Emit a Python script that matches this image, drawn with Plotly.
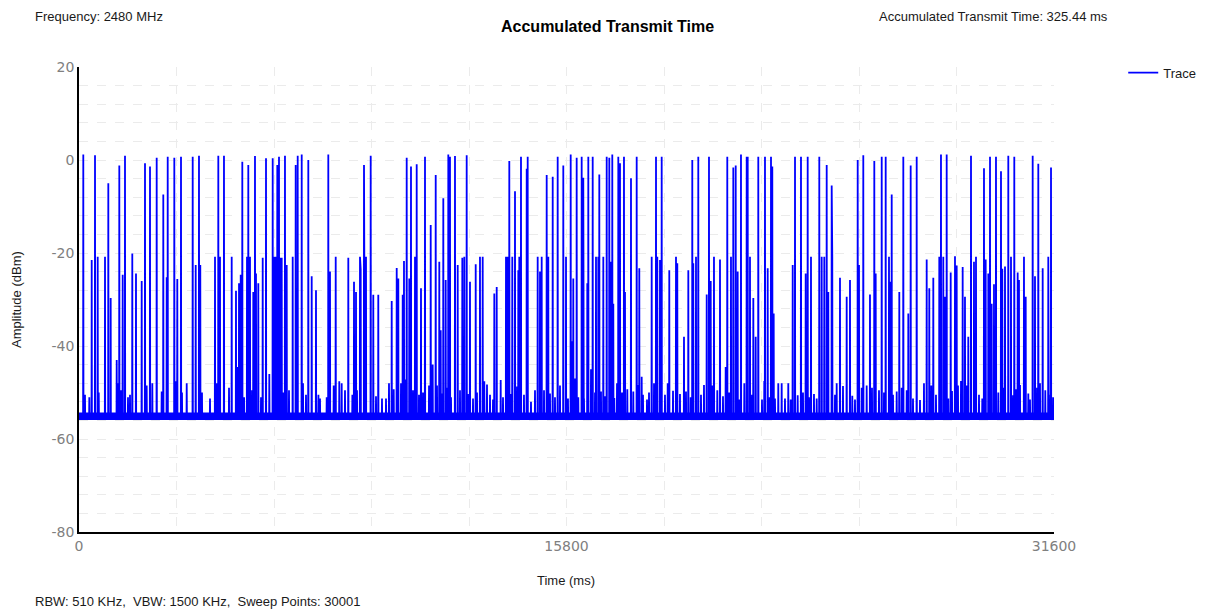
import plotly.graph_objects as go

# ---------------- data ----------------
# main bursts: time (ms) and peak amplitude (dBm)
burst_t = [139, 412, 519, 606, 843, 950, 1027, 1222, 1306, 1416, 1491, 1727, 1847, 2032, 2139, 2301,
           2518, 2732, 2842, 2875, 3089, 3186, 3306, 3491, 3685, 3782, 3889, 3931, 4408, 4515, 4570,
           4699, 4949, 5088, 5186, 5241, 5293, 5445, 5487, 5542, 5649, 5704, 5737, 5811, 5954, 6061,
           6168, 6278, 6330, 6385, 6427, 6482, 6514, 6570, 6676, 6732, 6926, 7023, 7088, 7218, 7432,
           7542, 7681, 8080, 8135, 8320, 8514, 8728, 8913, 8978, 9107, 9130, 9237, 9302, 9454, 9538,
           9700, 10135, 10297, 10349, 10491, 10533, 10621, 10705, 10760, 10890, 10945, 11084, 11214,
           11399, 11463, 11561, 11677, 11723, 11807, 11885, 11969, 12024, 12186, 12274, 12423, 12488,
           12565, 12672, 12857, 12996, 13084, 13460, 13538, 13667, 13839, 13894, 13946, 14043, 14131,
           14238, 14270, 14325, 14510, 14542, 14866, 14941, 14996, 15158, 15210, 15353, 15514, 15696,
           15784, 15936, 15968, 16020, 16130, 16292, 16344, 16474, 16507, 16649, 16756, 16831, 16863,
           16993, 17103, 17187, 17242, 17284, 17317, 17479, 17534, 17663, 17696, 17890, 18075, 18159,
           18237, 18561, 18701, 18743, 18830, 18885, 19131, 19349, 19391, 19608, 19748, 19877, 19909,
           19997, 20071, 20344, 20418, 20474, 20580, 20775, 21011, 21131, 21206, 21284, 21348, 21455,
           21640, 21673, 21747, 21855, 21932, 22016, 22233, 22321, 22428, 22470, 22515, 22664, 22774,
           22988, 23131, 23206, 23400, 23552, 23617, 23724, 23993, 24071, 24155, 24233, 24285, 24395,
           24414, 24557, 24664, 24881, 24988, 25238, 25280, 25419, 25636, 25776, 25821, 26016, 26145,
           26252, 26285, 26340, 26586, 26716, 26878, 26955, 27150, 27474, 27558, 27688, 27882, 27937,
           28012, 28067, 28122, 28252, 28391, 28446, 28640, 28715, 28822, 28910, 29007, 29072, 29331,
           29386, 29471, 29526, 29580, 29655, 29720, 29882, 29924, 30012, 30119, 30206, 30313, 30423,
           30465, 30627, 30683, 30909, 30984, 31091, 31233, 31415, 31503]
burst_dbm = [1.2, -21.5, 1.0, -20.8, -20.8, -5.0, -29.7, -43, -1.2, -24.7, 0.9, -20.1, -24.4, -26, -0.7, -1.4,
             0.5, -7.4, -25.2, 0.7, 0.5, -25.6, 0.7, -48, 0.7, -22.6, 0.9, -22.6, -20.8, 0.9, -20.8,
             0.9, -20.8, -28.1, -26.5, -24.7, -0.4, -20.8, -1.1, -20.8, -28.4, 0.85, -24.4, -26.5, -21, 0.4,
             -46, 0.4, -20.8, -20.8, -1.1, 0.7, -21, -21, 0.9, -22.6, -20.8, -1.1, 0.9, 1.2, 0,
             -25, -28, 1.2, -24, -20.8, -48, -21, -26.2, -28.4, -20.8, -23.5, -1.1, -20.8, 0.9, -29,
             -29, -30.3, -23.2, -25.5, -29, -21.7, 0.5, -25.5, -1.4, -20.8, -0.9, -27.6, 0.7,
             -14, -44, -3.2, -21.9, -36.6, -8.2, -25.8, 1.2, 0.7, 0.85, -22.6, -21, -20.8,
             1.0, -26.2, -22.4, -20.8, -20.8, -28.7, -27.3, -47.3, -20.8, -20.8, -0.2, -20.8, -6.7,
             -23.7, -20.8, 0.7, -1.9, 0.7, -20.8, -24, -20.8, -3.2, -20.8, -3.6, 0.7, -1.2,
             -20.8, 1.2, -39, -25.5, 0.5, 0.7, -3.8, -26.5, 0.7, 0.7, -20.8, -20.8, -3.1,
             -20.8, 0.7, 0.5, -21.9, 1.2, -30.9, 0.7, -0.7, 0.7, -28.4, -3.9, 0.7, -23.3,
             -46.6, -20.8, 0.7, -20.8, -21.5, 0.7, -23.7, -20.8, -22.2, -38, -23.7, 0, -22.2,
             -20.8, 0.7, -28.9, 0.7, -26, -20.8, -21.4, 0.7, -20.8, -1.6, -1.2, -24, 1.2,
             0.7, 0.7, -20.8, -29.7, -38, 0.7, 0.7, -23.3, 0.7, -1.4, -33, -48, -48,
             -48, -22.6, 0.7, 0.7, -24.4, 0.7, -20.8, 0.7, -20.8, -20.8, -1.1, -28.4, -5.5,
             -20.8, -48, -25.3, -29.4, -25.8, 0, -22.6, 1.0, -28.9, -0.2, -24.4, 0.7, 0.7,
             -20.8, -26.2, -7.4, -28.4, 0.7, -33, -1.2, 0.7, -21.4, -27.6, -25.3, -20.8, 1.2,
             -20.8, -29.4, 1.2, -24.2, -20.7, -22.7, -23, -29.4, -38, 0.9, -21.9, -20.8, -1.8,
             -21.4, -24.4, 0.7, -30.9, -26.7, 0.7, -2.4, -23.4, -22.9, 0.9, -20.8, 0.7, -24.2,
             -25.8, -20.8, -29.4, 0.9, -25, -0.8, -23.3, -20.8, -1.6]

# small noise bumps above the floor: time (ms) and level (dBm)
bump_t = [194, 334, 640, 1260, 1361, 1588, 1653, 2194, 2376, 2680, 3140, 3338, 3986, 4246, 4463, 4862,
          5143, 5350, 5607, 5899, 6612, 6806, 7260, 7357, 7760, 7811, 8028, 8255, 8436, 8621, 8860,
          9010, 9260, 9626, 9820, 9950, 10047, 10200, 10436, 10588, 10825, 11019, 11149, 11344, 11603,
          11765, 11927, 12057, 12348, 12607, 12770, 12899, 13136, 13223, 13321, 13418, 13742, 14000,
          14196, 14422, 14649, 14779, 15071, 15265, 15427, 15589, 15848, 16070, 16182, 16367, 16594,
          16724, 16918, 17047, 17349, 17437, 17599, 17771, 17965, 18117, 18279, 18409, 18474, 18636,
          18992, 19080, 19252, 19478, 19673, 19825, 20159, 20256, 20525, 20687, 20872, 20959, 21067,
          21391, 21563, 21812, 22136, 22210, 22386, 22557, 22881, 23066, 23293, 23465, 23659, 23821,
          23909, 24502, 24761, 25063, 25150, 25367, 25529, 25701, 25928, 26090, 26382, 26502, 26664,
          26826, 27030, 27257, 27386, 27623, 27775, 28174, 28294, 28488, 28586, 28770, 29169, 29276,
          29795, 29979, 30271, 30368, 30498, 30767, 30822, 31049, 31146, 31318, 31437, 31570]
bump_dbm = [-50.5, -51, -50, -48, -49.5, -51, -50.5, -48.5, -48, -49.8, -47.6, -50, -50, -51.3, -48, -49,
            -44.5, -51, -49.5, -51, -50, -49.5, -48, -50.5, -50.5, -51.3, -51, -48.5, -47.6, -49.5, -50.5,
            -49.5, -48.5, -50.8, -51.3, -51.3, -48, -49.3, -48, -47.2, -49.5, -50.5, -50, -48.5, -48.5,
            -50.2, -49, -51, -49.5, -50.3, -51.3, -50, -47.6, -48.3, -50.5, -51.5, -51, -50.3,
            -48.7, -50.5, -52, -49.5, -49.5, -50.2, -51, -48.5, -51.3, -47, -51, -51.3, -45,
            -50, -49.8, -50.8, -51.2, -48, -50, -49.3, -49.8, -48.4, -50.5, -51.5, -50, -48,
            -50.5, -48, -49.6, -50.3, -49.8, -51, -50.5, -48.4, -48.5, -49.5, -50.8, -44.5, -50,
            -51.5, -48, -50.5, -51.5, -47.5, -51, -51.3, -51.3, -51.5, -50.6, -50, -51, -50.3,
            -51.3, -50.5, -48.6, -50.7, -51.5, -49, -48.5, -49, -49.5, -50, -50.5, -49.8, -49,
            -49.5, -51.3, -51.6, -48, -48.5, -50.5, -51.3, -49.7, -48.5, -47.5, -48.5, -50.5, -51.3,
            -50, -49, -50.6, -49.3, -48.4, -50.2, -51.5, -49, -48, -49.5, -50.5, -51]

floor_dbm = -55.0            # noise floor level
floor_band = [-55.9, -54.3]  # dense noise band seen along the floor
sweep_span = [0, 31600]      # ms
x_ticks = [0, 15800, 31600]
y_ticks = [-80, -60, -40, -20, 0, 20]

# ---------------- build trace ----------------
events = sorted(list(zip(burst_t, burst_dbm)) + list(zip(bump_t, bump_dbm)))
half_w = 6  # ms on each side of a burst sample
xs = [sweep_span[0]]
ys = [floor_dbm]
for t, a in events:
    xs += [t - half_w, t, t + half_w]
    ys += [floor_dbm, a, floor_dbm]
xs.append(sweep_span[1])
ys.append(floor_dbm)

BLUE = "#0000ff"
fig = go.Figure()
# dense floor band (same colour as trace)
fig.add_trace(go.Scatter(
    x=[sweep_span[0], sweep_span[1], sweep_span[1], sweep_span[0], sweep_span[0]],
    y=[floor_band[0], floor_band[0], floor_band[1], floor_band[1], floor_band[0]],
    fill="toself", fillcolor=BLUE, mode="lines", line=dict(width=0, color=BLUE),
    showlegend=False, hoverinfo="skip"))
fig.add_trace(go.Scatter(x=xs, y=ys, mode="lines", name="Trace",
                         line=dict(color=BLUE, width=1.8)))

GRID = "#ebebeb"
TICKC = "#808080"
FONT = "Liberation Sans, Arial, sans-serif"

# the page body has an 8px margin; plot area spans page px x 79..1054, y 67..532
fig.update_layout(
    width=1202, height=605,
    margin=dict(l=71, r=156, t=59, b=81, autoexpand=False),
    paper_bgcolor="white", plot_bgcolor="white",
    font=dict(family=FONT, size=13, color="#1a1a1a"),
    showlegend=True,
    legend=dict(x=1.071, y=1.02, xanchor="left", yanchor="top",
                font=dict(size=13, color="#1a1a1a"), bgcolor="rgba(0,0,0,0)",
                itemwidth=30),
    xaxis=dict(range=sweep_span, tickvals=x_ticks, ticktext=[str(v) for v in x_ticks],
               showline=True, linecolor="black", linewidth=1.5, zeroline=False,
               showgrid=True, gridcolor=GRID, griddash="dash", gridwidth=1,
               minor=dict(dtick=3160, tick0=0, showgrid=True, gridcolor=GRID, griddash="dash"),
               ticks="", tickfont=dict(family="DejaVu Sans, sans-serif", size=14, color=TICKC)),
    yaxis=dict(range=[-80, 20], tickvals=y_ticks, ticktext=[str(v) for v in y_ticks],
               showline=True, linecolor="black", linewidth=1.5, zeroline=False,
               showgrid=True, gridcolor=GRID, griddash="dash", gridwidth=1,
               minor=dict(dtick=4, tick0=0, showgrid=True, gridcolor=GRID, griddash="dash"),
               ticks="", tickfont=dict(family="DejaVu Sans, sans-serif", size=14, color=TICKC)),
)

def px_x(p):
    return (p - 79) / 975.0

def px_y(p):
    return (532 - p) / 465.0

ann = [
    dict(text="Frequency: 2480 MHz", x=px_x(33), y=px_y(16), xanchor="left", yanchor="middle"),
    dict(text="<b>Accumulated Transmit Time</b>", x=px_x(607), y=px_y(26), xanchor="center",
         yanchor="middle", font=dict(size=16, color="#000000")),
    dict(text="Accumulated Transmit Time: 325.44 ms", x=px_x(1110), y=px_y(16), xanchor="right",
         yanchor="middle"),
    dict(text="RBW: 510 KHz,  VBW: 1500 KHz,  Sweep Points: 30001", x=px_x(33), y=px_y(601),
         xanchor="left", yanchor="middle"),
    dict(text="Time (ms)", x=px_x(566), y=px_y(580), xanchor="center", yanchor="middle"),
    dict(text="Amplitude (dBm)", x=px_x(16), y=px_y(300), xanchor="center", yanchor="middle",
         textangle=-90),
]
for a in ann:
    a.update(xref="paper", yref="paper", showarrow=False)
    fig.add_annotation(**a)

fig.write_html("out.html")
